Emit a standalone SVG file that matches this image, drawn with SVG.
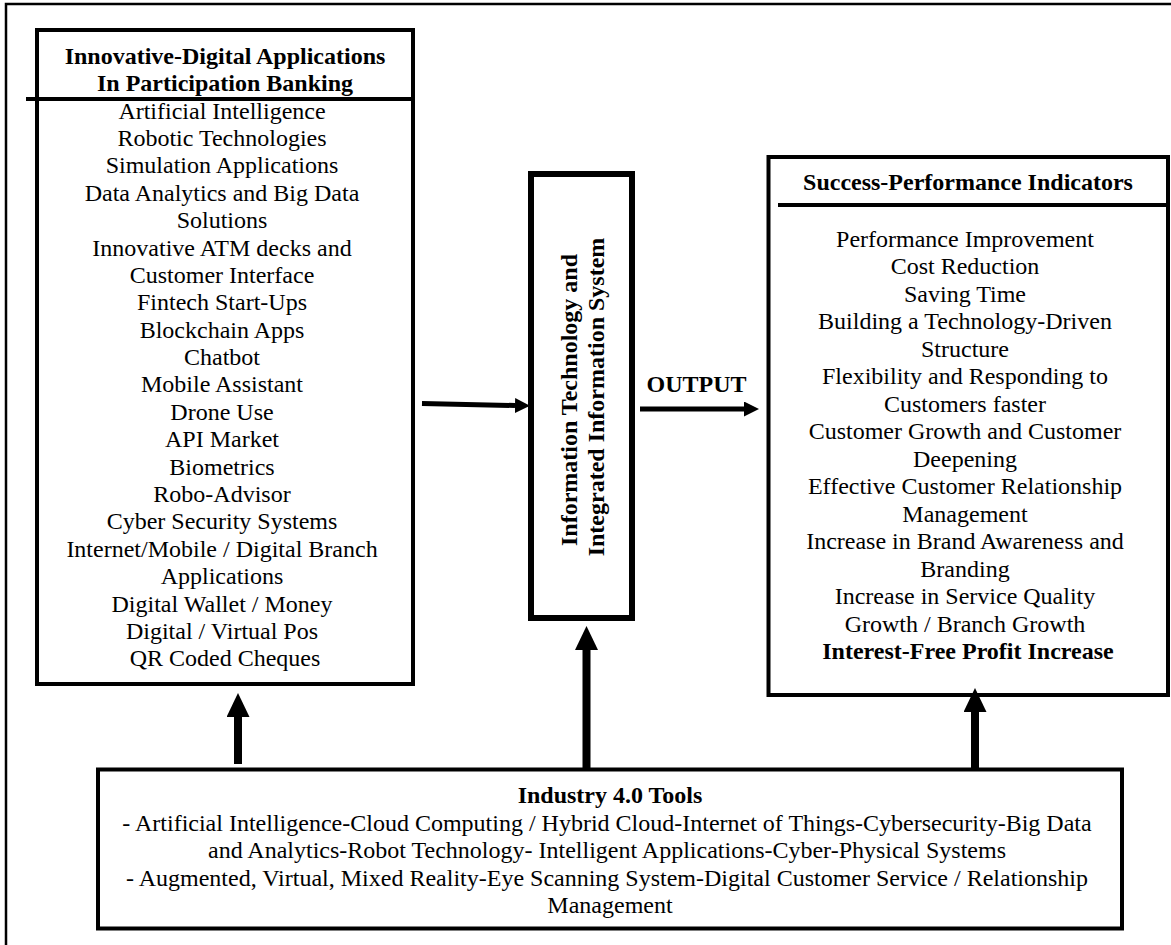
<svg xmlns="http://www.w3.org/2000/svg" width="1171" height="945" viewBox="0 0 1171 945">
  <style>
    text { font-family: "Liberation Serif", "Times New Roman", serif; font-size: 24px; fill: #000; }
    .b { font-weight: bold; }
    .box { fill: #fff; stroke: #000; stroke-width: 4; }
    .rule { stroke: #000; stroke-width: 4; }
    .shaft { stroke: #000; stroke-width: 8; fill: none; }
    .shaftS { stroke: #000; stroke-width: 5; fill: none; }
  </style>
  <defs>
    <marker id="headBig" viewBox="0 0 24 23" markerWidth="24" markerHeight="23" refX="0" refY="11.5" orient="auto" markerUnits="userSpaceOnUse">
      <path d="M0,0 L24,11.5 L0,23 Z" fill="#000"/>
    </marker>
    <marker id="headSmall" viewBox="0 0 15 15" markerWidth="15" markerHeight="15" refX="0" refY="7.5" orient="auto" markerUnits="userSpaceOnUse">
      <path d="M0,0 L15,7.5 L0,15 Z" fill="#000"/>
    </marker>
  </defs>
  <rect x="0" y="0" width="1171" height="945" fill="#fff"/>
  <rect id="frame" x="6" y="4" width="1300" height="1100" fill="none" stroke="#000" stroke-width="2.5"/>

  <g id="node-applications">
    <rect class="box" x="37" y="30" width="376" height="654"/>
    <line class="rule" x1="26" y1="99" x2="413" y2="99"/>
    <text class="b" x="225" y="64" text-anchor="middle">Innovative-Digital Applications</text>
    <text class="b" x="225" y="91" text-anchor="middle">In Participation Banking</text>
    <text x="225" y="118.5" text-anchor="middle">
      <tspan x="225" dy="0">Artificial Intelligence</tspan>
      <tspan x="225" dy="27.4">Robotic Technologies</tspan>
      <tspan x="225" dy="27.4">Simulation Applications</tspan>
      <tspan x="225" dy="27.4">Data Analytics and Big Data</tspan>
      <tspan x="225" dy="27.4">Solutions</tspan>
      <tspan x="225" dy="27.4">Innovative ATM decks and</tspan>
      <tspan x="225" dy="27.4">Customer Interface</tspan>
      <tspan x="225" dy="27.4">Fintech Start-Ups</tspan>
      <tspan x="225" dy="27.4">Blockchain Apps</tspan>
      <tspan x="225" dy="27.4">Chatbot</tspan>
      <tspan x="225" dy="27.4">Mobile Assistant</tspan>
      <tspan x="225" dy="27.4">Drone Use</tspan>
      <tspan x="225" dy="27.4">API Market</tspan>
      <tspan x="225" dy="27.4">Biometrics</tspan>
      <tspan x="225" dy="27.4">Robo-Advisor</tspan>
      <tspan x="225" dy="27.4">Cyber Security Systems</tspan>
      <tspan x="225" dy="27.4">Internet/Mobile / Digital Branch</tspan>
      <tspan x="225" dy="27.4">Applications</tspan>
      <tspan x="225" dy="27.4">Digital Wallet / Money</tspan>
      <tspan x="225" dy="27.4">Digital / Virtual Pos</tspan>
      <tspan x="225" dy="27.4">QR Coded Cheques</tspan>
    </text>
  </g>

  <g id="node-it">
    <rect x="531" y="174" width="101" height="444" fill="#fff" stroke="#000" stroke-width="6"/>
    <text class="b" transform="translate(577,397) rotate(-90)" text-anchor="middle">
      <tspan x="0" dy="0">Information Technology and</tspan>
      <tspan x="0" dy="27">Integrated Information System</tspan>
    </text>
  </g>

  <g id="node-indicators">
    <rect class="box" x="768.5" y="157" width="399.5" height="538"/>
    <line class="rule" x1="778" y1="205" x2="1168" y2="205"/>
    <text class="b" x="968" y="190" text-anchor="middle">Success-Performance Indicators</text>
    <text x="968" y="246.5" text-anchor="middle">
      <tspan x="968" dy="0">Performance Improvement</tspan>
      <tspan x="968" dy="27.5">Cost Reduction</tspan>
      <tspan x="968" dy="27.5">Saving Time</tspan>
      <tspan x="968" dy="27.5">Building a Technology-Driven</tspan>
      <tspan x="968" dy="27.5">Structure</tspan>
      <tspan x="968" dy="27.5">Flexibility and Responding to</tspan>
      <tspan x="968" dy="27.5">Customers faster</tspan>
      <tspan x="968" dy="27.5">Customer Growth and Customer</tspan>
      <tspan x="968" dy="27.5">Deepening</tspan>
      <tspan x="968" dy="27.5">Effective Customer Relationship</tspan>
      <tspan x="968" dy="27.5">Management</tspan>
      <tspan x="968" dy="27.5">Increase in Brand Awareness and</tspan>
      <tspan x="968" dy="27.5">Branding</tspan>
      <tspan x="968" dy="27.5">Increase in Service Quality</tspan>
      <tspan x="968" dy="27.5">Growth / Branch Growth</tspan>
      <tspan x="968" dy="27.5" font-weight="bold">Interest-Free Profit Increase</tspan>
    </text>
  </g>

  <g id="node-industry">
    <rect class="box" x="98" y="769.5" width="1024" height="159"/>
    <text class="b" x="610" y="803.3" text-anchor="middle">Industry 4.0 Tools</text>
    <text x="610" y="831" text-anchor="middle">
      <tspan x="610" dy="0">- Artificial Intelligence-Cloud Computing / Hybrid Cloud-Internet of Things-Cybersecurity-Big Data</tspan>
      <tspan x="610" dy="27.4">and Analytics-Robot Technology- Intelligent Applications-Cyber-Physical Systems</tspan>
      <tspan x="610" dy="27.4">- Augmented, Virtual, Mixed Reality-Eye Scanning System-Digital Customer Service / Relationship</tspan>
      <tspan x="610" dy="27.4">Management</tspan>
    </text>
  </g>

  <g id="connectors">
    <line class="shaftS" x1="422" y1="403.5" x2="515" y2="405.5" marker-end="url(#headSmall)"/>
    <line class="shaftS" x1="640" y1="409" x2="744" y2="409" marker-end="url(#headSmall)" style="marker-end:url(#headSmall)"/>
    <line class="shaft" x1="238" y1="764" x2="238" y2="717" marker-end="url(#headBig)"/>
    <line class="shaft" x1="586.5" y1="768" x2="586.5" y2="650" marker-end="url(#headBig)"/>
    <line class="shaft" x1="975" y1="768" x2="975" y2="712" marker-end="url(#headBig)"/>
  </g>
  <text class="b" x="696.5" y="391.7" text-anchor="middle">OUTPUT</text>
</svg>
